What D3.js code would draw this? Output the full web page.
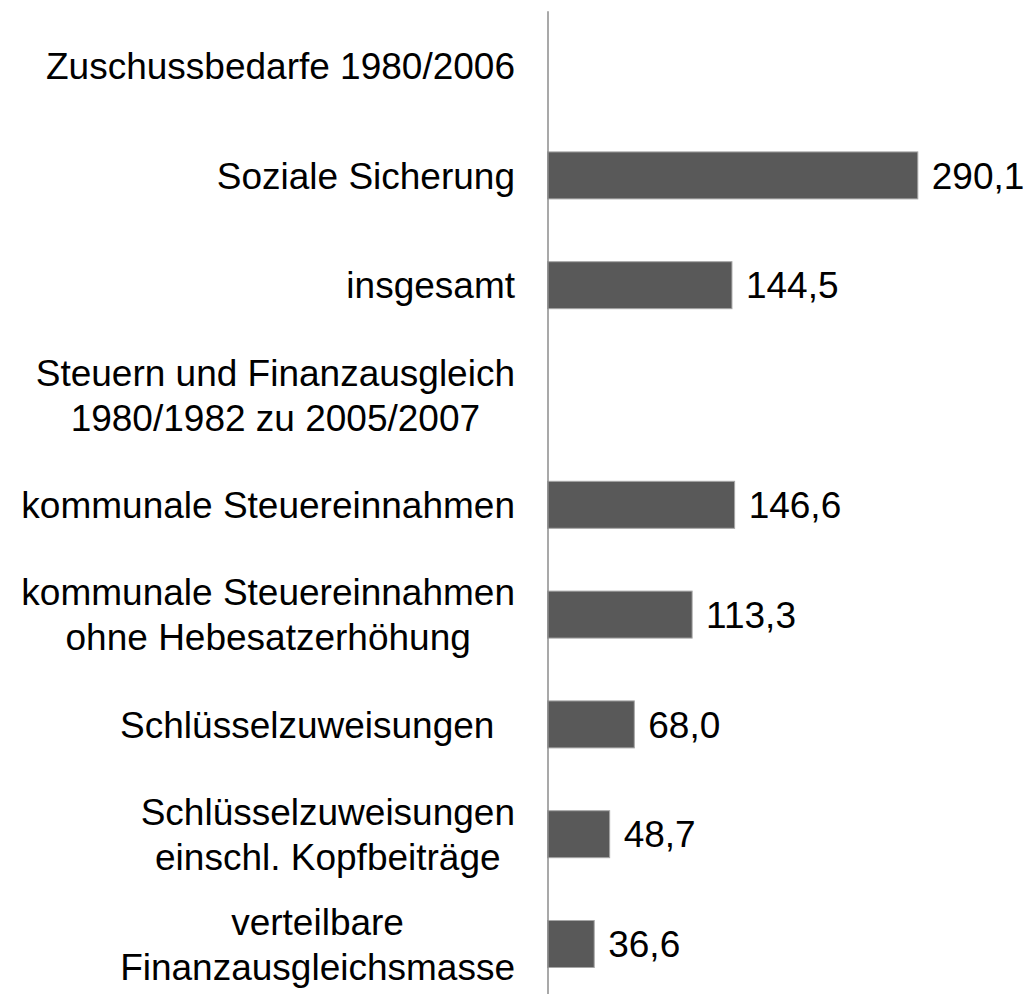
<!DOCTYPE html>
<html>
<head>
<meta charset="utf-8">
<script src="https://cdn.jsdelivr.net/npm/d3@7"></script>
<style>
  body { margin: 0; background: #fff; }
  text { font-family: "Liberation Sans", Arial, sans-serif; fill: #000; }
</style>
</head>
<body>
<div id="chart"></div>
<script>
// Category labels (line breaks as in the original) and values
var categories = [
  "Zuschussbedarfe 1980/2006",
  "Soziale Sicherung",
  "insgesamt",
  "Steuern und Finanzausgleich\n1980/1982 zu 2005/2007",
  "kommunale Steuereinnahmen",
  "kommunale Steuereinnahmen\nohne Hebesatzerhöhung",
  "Schlüsselzuweisungen\u00a0\u00a0",
  "Schlüsselzuweisungen\neinschl. Kopfbeiträge",
  "verteilbare\nFinanzausgleichsmasse"
];
var values = [null, 290.1, 144.5, null, 146.6, 113.3, 68.0, 48.7, 36.6];

var svgWidth = 1030;
var svgHeight = 994;
var fontSize = 37;
var lineHeight = 45;

var svg = d3.select("#chart")
    .append("svg")
    .attr("width", svgWidth)
    .attr("height", svgHeight);

var data = categories.map(function(c, i) {
    return { label: c, value: values[i], key: i };
});

// y band scale, x linear scale starting at the axis
var yScale = d3.scaleBand()
    .domain(data.map(d => d.key))
    .range([10.7, 998.9])
    .paddingInner(0.572)
    .paddingOuter(0.286);

var xScale = d3.scaleLinear()
    .domain([0, 290.1])
    .range([547.5, 917.8]);

var de = d3.formatLocale({ decimal: ",", thousands: ".", grouping: [3], currency: ["", " €"] });
var fmt = de.format(".1f");

var bars = data.filter(d => d.value != null);

svg.selectAll("rect.bar")
    .data(bars)
    .enter()
    .append("rect")
    .attr("class", "bar")
    .attr("x", xScale(0))
    .attr("y", d => yScale(d.key))
    .attr("width", d => xScale(d.value) - xScale(0))
    .attr("height", yScale.bandwidth())
    .attr("fill", "#595959")
    .attr("stroke", "#a6a6a6")
    .attr("stroke-width", 1);

// vertical axis line
var leftAxis = d3.axisLeft(yScale).tickSize(0).tickFormat("");
var axisG = svg.append("g")
    .attr("transform", `translate(${xScale(0)}, 0)`)
    .call(leftAxis);
axisG.select(".domain").attr("stroke", "#8c8c8c").attr("stroke-width", 1.5);

// value labels
svg.selectAll("text.value")
    .data(bars)
    .enter()
    .append("text")
    .attr("class", "value")
    .attr("x", d => xScale(d.value) + 14)
    .attr("y", d => yScale(d.key) + yScale.bandwidth() / 2)
    .attr("dy", "0.355em")
    .style("font-size", fontSize + "px")
    .text(d => fmt(d.value));

// category labels: block right-aligned, lines centred within block
var labelRight = 515;
data.forEach(function(d) {
    var lines = d.label.split("\n");
    var cy = yScale(d.key) + yScale.bandwidth() / 2;
    var t = svg.append("text")
        .attr("class", "cat")
        .attr("text-anchor", "middle")
        .style("font-size", fontSize + "px");
    lines.forEach(function(line, j) {
        t.append("tspan")
            .attr("y", cy + (j - (lines.length - 1) / 2) * lineHeight)
            .attr("dy", "0.355em")
            .text(line);
    });
    var maxW = 0;
    t.selectAll("tspan").each(function() {
        maxW = Math.max(maxW, this.getComputedTextLength());
    });
    t.selectAll("tspan").attr("x", labelRight - maxW / 2);
});
</script>
</body>
</html>
